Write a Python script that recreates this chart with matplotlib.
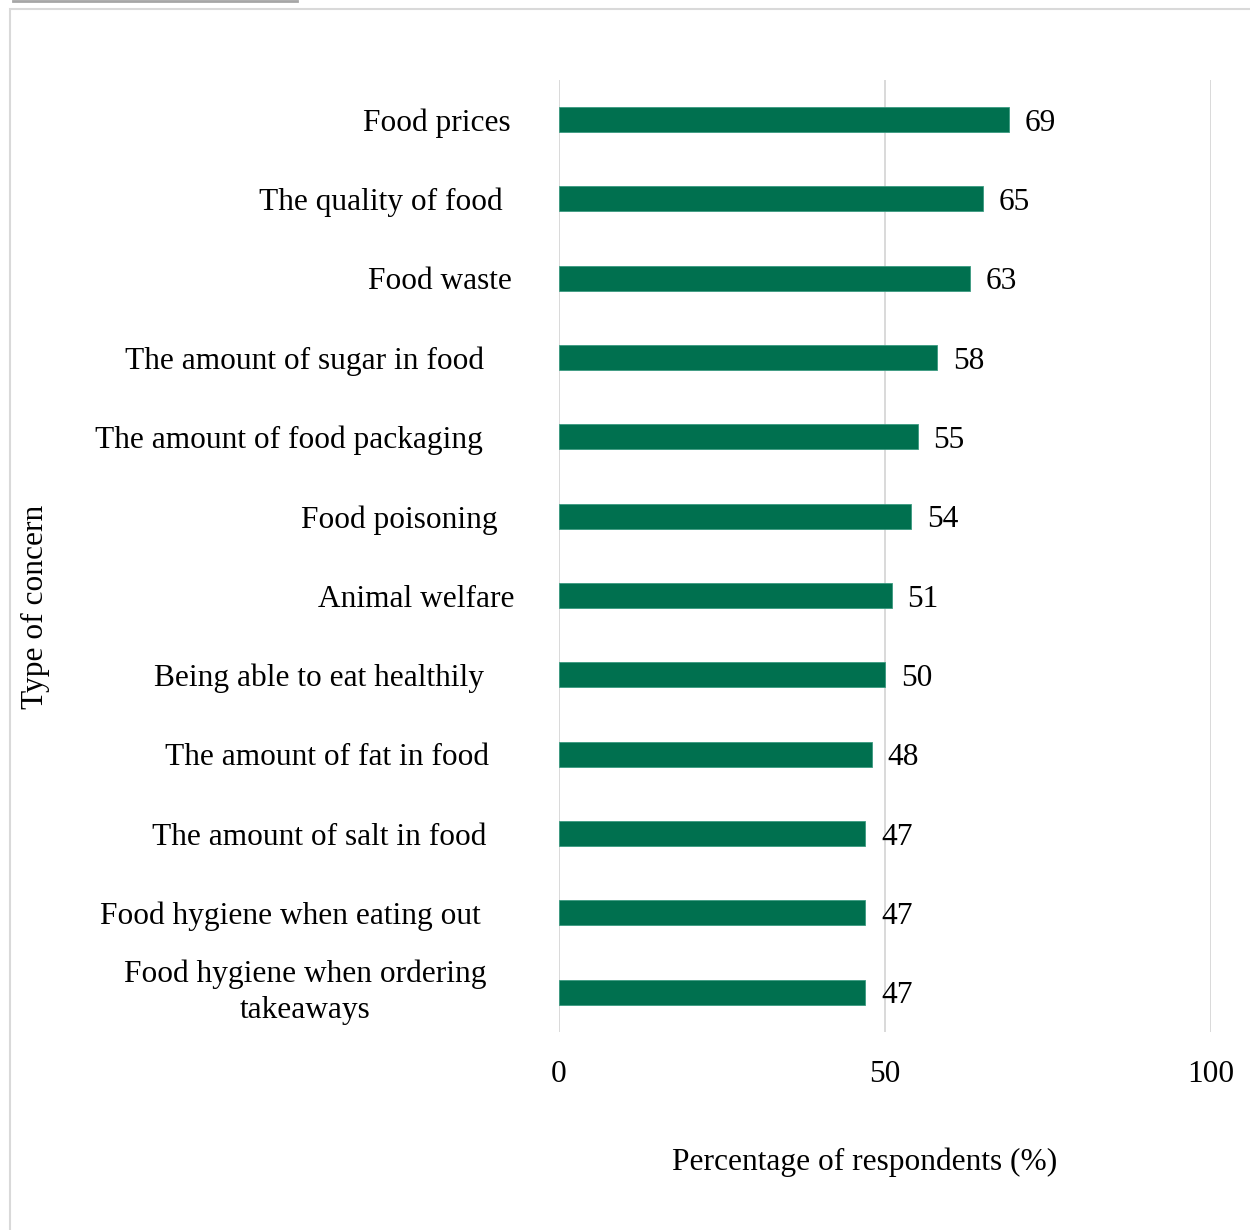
import matplotlib
matplotlib.use('Agg')
import matplotlib.pyplot as plt
from matplotlib.patches import Rectangle
from matplotlib.lines import Line2D
from matplotlib.transforms import blended_transform_factory

concerns = [
    'Food prices',
    'The quality of food',
    'Food waste',
    'The amount of sugar in food',
    'The amount of food packaging',
    'Food poisoning',
    'Animal welfare',
    'Being able to eat healthily',
    'The amount of fat in food',
    'The amount of salt in food',
    'Food hygiene when eating out',
    'Food hygiene when ordering\ntakeaways',
]
percent = [69, 65, 63, 58, 55, 54, 51, 50, 48, 47, 47, 47]
xticks = [0, 50, 100]

# right edge (pixels) of each category label, as laid out in the source chart
label_right = [511, 503, 512, 484, 483, 498, 514, 484, 489, 486, 481, 486]

plt.rcParams['font.family'] = ['Liberation Serif', 'DejaVu Serif']
fs = 22.6

W, H = 1250, 1230
fig = plt.figure(figsize=(W / 100, H / 100), dpi=100)
ax = fig.add_axes([0.4472, 0.161, 0.5216, 0.774])

ypos = list(range(len(concerns)))
ax.barh(ypos, percent, height=0.315, color='#00704f',
        edgecolor='#3a9a80', linewidth=0.6, zorder=3)
for y, v in zip(ypos, percent):
    ax.text(v + 2.4, y, str(v), va='center_baseline', ha='left', fontsize=fs)

ax.set_ylim(len(concerns) - 0.5, -0.5)
ax.set_xlim(0, 100)
ax.set_xticks(xticks)
ax.set_xticklabels([str(t) for t in xticks], fontsize=fs)
ax.set_yticks(ypos)
ax.set_yticklabels([])
ax.tick_params(axis='both', length=0)
ax.tick_params(axis='x', pad=20)
ax.grid(axis='x', color='#d9d9d9', linewidth=1.4, zorder=0)
for s in ax.spines.values():
    s.set_visible(False)

trans = blended_transform_factory(fig.transFigure, ax.transData)
for y, name, xr in zip(ypos, concerns, label_right):
    va = 'center' if '\n' in name else 'center_baseline'
    ax.text(xr / W, y, name, transform=trans, ha='right', va=va,
            ma='center', linespacing=1.35, fontsize=fs, clip_on=False)

fig.text(865 / W, 1 - 1162 / H, 'Percentage of respondents (%)',
         ha='center', va='center', fontsize=fs)
fig.text(35 / W, 1 - 607 / H, 'Type of concern', rotation=90,
         ha='center', va='center', fontsize=fs)

# outer frame and the short dark rule above it
fig.patches.append(Rectangle((10 / W, -0.05), 1.1, 1 - 9 / H + 0.05,
                             transform=fig.transFigure, fill=False,
                             edgecolor='#d9d9d9', linewidth=1.5))
fig.lines.append(Line2D([13 / W, 297 / W], [0.9995, 0.9995],
                        transform=fig.transFigure, color='#a6a6a6',
                        linewidth=2))

fig.savefig('out.png', dpi=100, facecolor='white')
